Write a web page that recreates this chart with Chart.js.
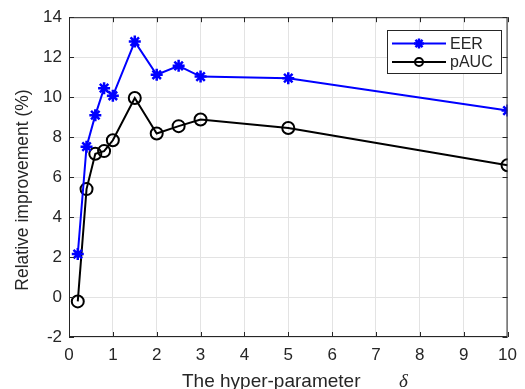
<!DOCTYPE html>
<html>
<head>
<meta charset="utf-8">
<script src="https://cdn.jsdelivr.net/npm/chart.js@4"></script>
<style>
  html,body{margin:0;padding:0;background:#fff;}
  #wrap{width:525px;height:389px;position:relative;}
</style>
</head>
<body>
<div id="wrap"><canvas id="c"></canvas></div>
<script>
const deltas = [0.2, 0.4, 0.6, 0.8, 1, 1.5, 2, 2.5, 3, 5, 10];
const eer    = [2.15, 7.52, 9.1, 10.45, 10.07, 12.78, 11.12, 11.57, 11.03, 10.95, 9.33];
const pauc   = [-0.22, 5.4, 7.17, 7.3, 7.84, 9.96, 8.18, 8.55, 8.88, 8.46, 6.59];
const xTicks = [0,1,2,3,4,5,6,7,8,9,10];
const yTicks = [-2,0,2,4,6,8,10,12,14];
const xTitle = 'The hyper-parameter';
const xSymbol = 'δ';
const yTitle = 'Relative improvement (%)';

const SANS = '"Liberation Sans", Arial, sans-serif';
const TICKFONT = {family:SANS, size:17};
const INK = '#262626';

const pts = (ys) => deltas.map((x,i)=>({x, y:ys[i]}));

// MATLAB-like box with inward ticks on all four sides
const boxPlugin = {
  id:'box',
  afterDatasetsDraw(chart){
    const {ctx, chartArea:a, scales:{x,y}} = chart;
    ctx.save();
    ctx.strokeStyle = INK; ctx.lineWidth = 1;
    ctx.strokeRect(a.left+0.5, a.top+0.5, a.right-a.left-1, a.bottom-a.top-1);
    ctx.beginPath();
    const L = 5;
    xTicks.forEach(v=>{
      const p = Math.round(x.getPixelForValue(v))+0.5;
      ctx.moveTo(p,a.bottom); ctx.lineTo(p,a.bottom-L);
      ctx.moveTo(p,a.top); ctx.lineTo(p,a.top+L);
    });
    yTicks.forEach(v=>{
      const p = Math.round(y.getPixelForValue(v))+0.5;
      ctx.moveTo(a.left,p); ctx.lineTo(a.left+L,p);
      ctx.moveTo(a.right,p); ctx.lineTo(a.right-L,p);
    });
    ctx.stroke();
    ctx.restore();
  }
};

// axis titles (x title has an italic serif delta)
const titlePlugin = {
  id:'titles',
  afterDraw(chart){
    const ctx = chart.ctx;
    ctx.save();
    ctx.fillStyle = INK;
    ctx.textBaseline = 'alphabetic'; ctx.textAlign = 'left';
    ctx.font = '19px ' + SANS;
    ctx.fillText(xTitle, 182, 387);
    ctx.font = 'italic 19px "Liberation Serif", "DejaVu Serif", serif';
    ctx.fillText(xSymbol, 399, 387);
    ctx.translate(23, 190);
    ctx.rotate(-Math.PI/2);
    ctx.font = '17.5px ' + SANS;
    ctx.textAlign = 'center'; ctx.textBaseline = 'middle';
    ctx.fillText(yTitle, 0, 0);
    ctx.restore();
  }
};

// legend box top-right like MATLAB
const legendPlugin = {
  id:'mlegend',
  afterDraw(chart){
    const ctx = chart.ctx;
    const bx = 387, by = 30, bw = 114, bh = 43;
    ctx.save();
    ctx.fillStyle = '#fff';
    ctx.fillRect(bx, by, bw, bh);
    ctx.strokeStyle = INK; ctx.lineWidth = 1;
    ctx.strokeRect(bx+0.5, by+0.5, bw, bh);
    chart.data.datasets.forEach((ds,i)=>{
      const yy = by + 13.5 + i*18.5;
      ctx.strokeStyle = ds.borderColor; ctx.lineWidth = ds.borderWidth;
      ctx.beginPath(); ctx.moveTo(392, yy); ctx.lineTo(446, yy); ctx.stroke();
      ctx.fillStyle = ds.pointBackgroundColor; ctx.strokeStyle = ds.pointBorderColor;
      ctx.lineWidth = ds.pointBorderWidth;
      Chart.helpers.drawPoint(ctx, {pointStyle: ds.pointStyle, radius: ds.legendRadius, borderWidth: ds.pointBorderWidth, rotation:0}, 419, yy);
      ctx.fillStyle = INK; ctx.font = '16px ' + SANS;
      ctx.textBaseline = 'middle'; ctx.textAlign = 'left';
      ctx.fillText(ds.label, 450, yy+1);
    });
    ctx.restore();
  }
};

new Chart(document.getElementById('c'), {
  type:'line',
  data:{datasets:[
    {label:'EER', data:pts(eer), borderColor:'#0000ff', backgroundColor:'#0000ff',
     borderWidth:2, pointStyle:'star', pointRadius:6, pointBorderWidth:2.5, legendRadius:5,
     pointBackgroundColor:'#0000ff', pointBorderColor:'#0000ff', tension:0},
    {label:'pAUC', data:pts(pauc), borderColor:'#000000', backgroundColor:'#ffffff',
     borderWidth:2, pointStyle:'circle', pointRadius:6, pointBorderWidth:2, legendRadius:4,
     pointBackgroundColor:'rgba(255,255,255,0)', pointBorderColor:'#000000', tension:0}
  ]},
  options:{
    responsive:true, maintainAspectRatio:false, animation:false,
    layout:{padding:{left:0, right:9, top:15, bottom:0}},
    plugins:{legend:{display:false}, tooltip:{enabled:false}},
    scales:{
      x:{type:'linear', min:0, max:10,
         afterBuildTicks(s){ s.ticks = xTicks.map(v=>({value:v})); },
         afterFit(s){ s.height = 52; },
         grid:{color:'#e3e3e3', drawTicks:false, tickLength:0},
         border:{display:false},
         ticks:{color:INK, font:TICKFONT, padding:8, maxRotation:0, autoSkip:false}},
      y:{type:'linear', min:-2, max:14,
         afterBuildTicks(s){ s.ticks = yTicks.map(v=>({value:v})); },
         afterFit(s){ s.width = 69; },
         grid:{color:'#e3e3e3', drawTicks:false, tickLength:0},
         border:{display:false},
         ticks:{color:INK, font:TICKFONT, padding:7, autoSkip:false}}
    }
  },
  plugins:[boxPlugin, legendPlugin, titlePlugin]
});
</script>
</body>
</html>
